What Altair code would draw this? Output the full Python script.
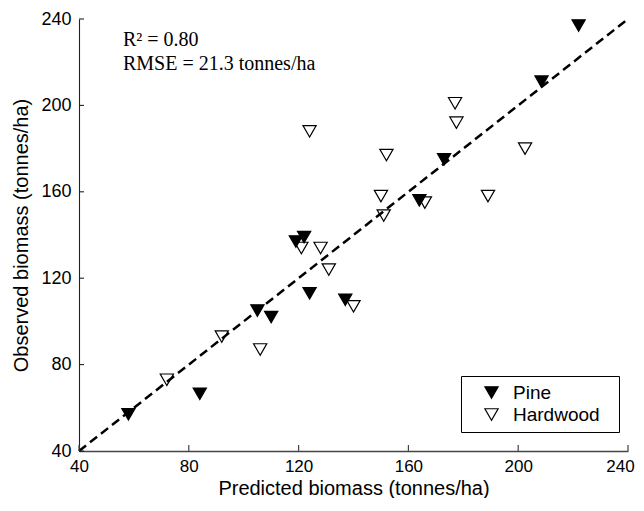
import altair as alt
import pandas as pd

# ---- data ----
pine_pred = [58, 84, 105, 110, 124, 137, 119, 122, 164, 173, 208.5, 222]
pine_obs = [57, 66.5, 105, 102, 113, 110, 137, 139, 156, 175, 211, 237]

hard_pred = [72, 92, 106, 121, 128, 131, 140, 124, 150, 151, 152, 166, 177, 177.5, 189, 202.5]
hard_obs = [73, 93, 87, 134, 134, 124, 107, 188, 158, 149, 177, 155, 201, 192, 158, 180]

groups = ["Pine", "Hardwood"]
tick_values = [40, 80, 120, 160, 200, 240]
one_to_one = [40, 240]

ann_text = ["R\u00b2 = 0.80", "RMSE = 21.3 tonnes/ha"]
ann_x = [56, 56]
ann_y = [227.6, 216.5]

# ---- tables ----
pts = pd.DataFrame({
    "x": pine_pred + hard_pred,
    "y": pine_obs + hard_obs,
    "type": ["Pine"] * len(pine_pred) + ["Hardwood"] * len(hard_pred),
})
line_df = pd.DataFrame({"x": one_to_one, "y": one_to_one})
tick_df = pd.DataFrame({"x": tick_values, "y": tick_values})
ann_df = pd.DataFrame({"x": ann_x, "y": ann_y, "t": ann_text})

W, H = 549, 432
FONT = "Liberation Sans"

xscale = alt.Scale(domain=[40, 240], nice=False, zero=False)
yscale = alt.Scale(domain=[40, 240], nice=False, zero=False)

xaxis = alt.Axis(values=tick_values, title="Predicted biomass (tonnes/ha)", ticks=False,
                 grid=False, labelPadding=7, labelFontSize=17, titleY=43, titleBaseline="alphabetic",
                 labelOffset={"condition": {"test": "datum.value == 240", "value": -8}, "value": 0},
                 domainColor="#444", domainWidth=1.4, labelFlush=False, labelOverlap=False)
yaxis = alt.Axis(values=tick_values, title="Observed biomass (tonnes/ha)", ticks=False,
                 grid=False, labelPadding=8, titlePadding=9, domainColor="#222",
                 domainWidth=1.1, labelFlush=False, labelOverlap=False)

X = alt.X("x:Q", scale=xscale, axis=xaxis)
Y = alt.Y("y:Q", scale=yscale, axis=yaxis)

line = alt.Chart(line_df).mark_line(color="black", strokeWidth=2.5, strokeDash=[9, 5]).encode(x=X, y=Y)

points = alt.Chart(pts).mark_point(
    shape="triangle-down", filled=True, size=175, stroke="black", strokeWidth=1.2, opacity=1
).encode(
    x=X, y=Y,
    fill=alt.Fill("type:N", scale=alt.Scale(domain=groups, range=["black", "transparent"]),
                  legend=alt.Legend(
                      title="\u00a0", titleOrient="right", titlePadding=12, titleFontSize=8,
                      orient="none", legendX=382, legendY=357,
                      strokeColor="black", fillColor="white", padding=7, rowPadding=2,
                      symbolOffset=14, labelOffset=12, symbolType="triangle-down",
                      symbolSize=175, symbolStrokeColor="black", symbolStrokeWidth=1.2,
                      labelFont=FONT, labelFontSize=19, labelColor="black")),
    order=alt.Order("ord:Q"),
).transform_calculate(ord="datum.type == 'Pine' ? 0 : 1")

xticks = alt.Chart(tick_df).mark_rule(color="#444", strokeWidth=1.2).encode(
    x=X, y=alt.value(H), y2=alt.value(H - 6))
yticks = alt.Chart(tick_df).mark_rule(color="#222", strokeWidth=1.1).encode(
    y=Y, x=alt.value(0), x2=alt.value(5))

ann = alt.Chart(ann_df).mark_text(
    align="left", baseline="alphabetic", font="Liberation Serif", fontSize=20, color="black"
).encode(x=X, y=Y, text="t:N")

chart = alt.layer(line, xticks, yticks, points, ann).properties(
    width=W, height=H,
    autosize=alt.AutoSizeParams(type="none"),
    padding={"left": 71, "top": 11, "right": 8, "bottom": 47},
).configure_view(strokeWidth=0).configure_axis(
    labelFont=FONT, titleFont=FONT, labelFontSize=18, titleFontSize=20,
    titleFontWeight="normal", labelColor="black", titleColor="black",
)

chart.save("out.html", embed_options={"renderer": "svg", "actions": False})
